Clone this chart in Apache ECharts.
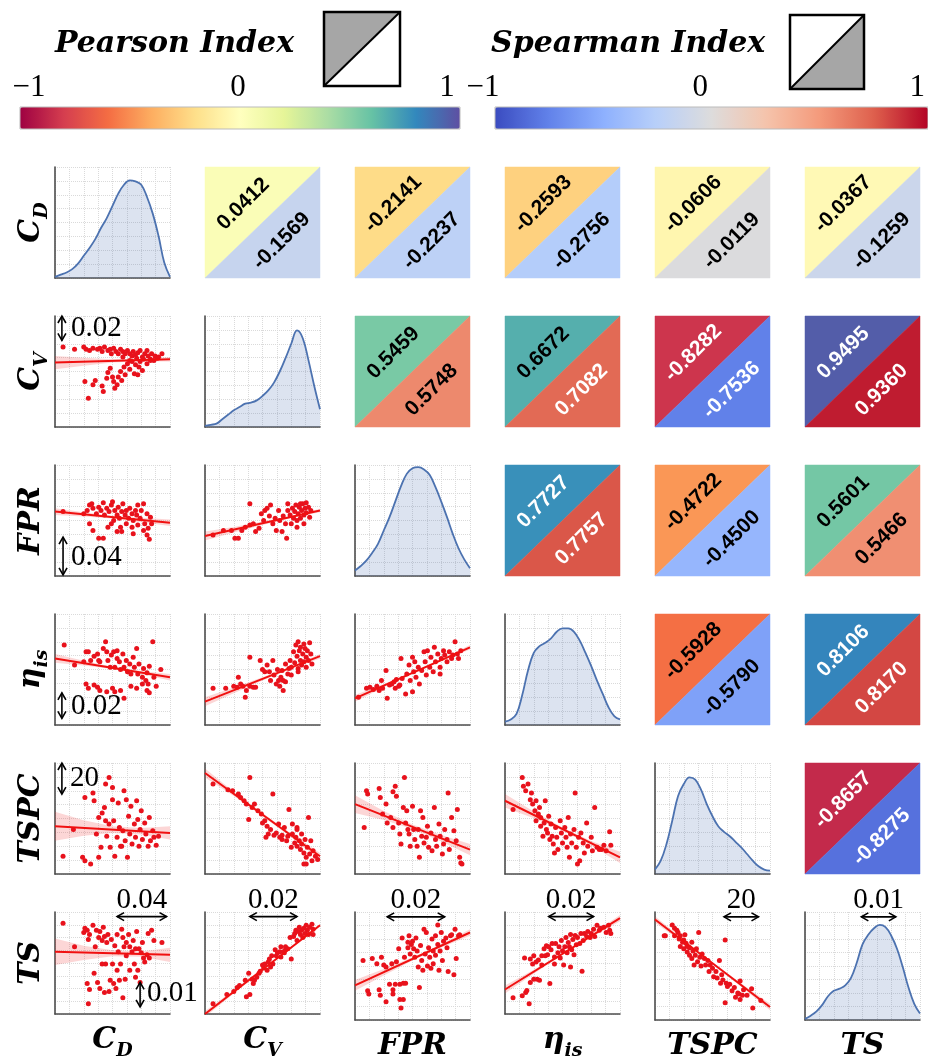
<!DOCTYPE html>
<html><head><meta charset="utf-8">
<script src="https://cdn.jsdelivr.net/npm/echarts@6/dist/echarts.min.js"></script>
<style>html,body{margin:0;padding:0;background:#fff}#c{width:928px;height:1062px}</style>
</head><body><div id="c"></div><script>
// ---------------- DATA ----------------
var VARS = [{m:'C',s:'D'},{m:'C',s:'V'},{m:'FPR'},{m:'η',s:'is'},{m:'TSPC'},{m:'TS'}];
// upper-triangle pairs, row-major (CD-CV, CD-FPR, ... TSPC-TS)
var PEARSON  = [0.0412,-0.2141,-0.2593,-0.0606,-0.0367, 0.5459,0.6672,-0.8282,0.9495, 0.7727,-0.4722,0.5601, -0.5928,0.8106, -0.8657];
var SPEARMAN = [-0.1569,-0.2237,-0.2756,-0.0119,-0.1259, 0.5748,0.7082,-0.7536,0.9360, 0.7757,-0.4500,0.5466, -0.5790,0.8170, -0.8275];
var CB_TICKS = [-1, 0, 1];

// KDE curves on the diagonal (x positions, normalized density)
var KDE_X    = [0,5,10,15,20,25,30,35,40,45,50,55,60,65,70,75,80,85,90,95,100];
var KDE_CD   = [1,3,5,8,13,20,27,35,45,54,65,76,84,88,87,84,73,58,38,14,1];
var KDE_CV   = [1,2,3,7,11,15,18,21,22,24,28,33,40,50,62,75,87,80,60,37,16];
var KDE_FPR  = [5,9,14,21,29,41,53,67,81,92,97,98,96,91,80,67,53,38,25,15,7];
var KDE_ETA  = [3,5,10,27,49,65,71,74,78,84,87,87,84,76,65,53,40,28,16,8,5];
var KDE_TSPC = [4,12,27,48,70,81,87,85,76,63,52,43,38,34,29,24,18,12,7,4,3];
var KDE_TS   = [1,4,8,14,22,27,29,32,39,53,70,79,85,88,86,78,66,49,30,15,6];

// scatter points (normalized 0-100 within each panel): rowVar_colVar
var CV_CD = [[7,72],[17,70],[25,72],[27,70],[30,69],[33,71],[37,70],[39,71],[41,68],[43,72],[46,69],[48,70],[49,66],[51,71],[53,68],[55,66],[57,70],[59,68],[61,66],[63,69],[65,66],[67,64],[68,68],[70,65],[72,67],[74,69],[76,63],[78,66],[80,69],[81,64],[83,61],[84,66],[87,64],[90,63],[93,66],[59,63],[71,62],[65,60],[26,41],[29,26],[33,38],[35,42],[41,37],[42,32],[45,44],[46,49],[48,53],[50,45],[51,41],[52,35],[54,38],[55,45],[57,50],[58,42],[60,54],[61,47],[63,57],[65,52],[67,59],[69,48],[70,56],[72,47],[73,54],[74,59],[76,51],[77,61],[80,57],[83,60],[86,60],[89,62]];
var FPR_CD = [[7,58],[25,56],[28,59],[30,64],[32,65],[33,61],[36,56],[38,62],[40,59],[42,66],[43,55],[45,61],[47,58],[49,64],[50,67],[52,59],[54,55],[55,62],[56,52],[58,58],[59,65],[61,55],[62,59],[64,52],[65,61],[67,56],[68,50],[70,59],[71,55],[72,64],[74,52],[75,59],[77,65],[78,47],[80,56],[81,43],[83,53],[30,47],[33,41],[38,34],[42,34],[46,44],[49,47],[54,40],[58,40],[62,47],[67,44],[72,46],[77,41],[80,37],[82,33],[84,47],[57,44],[51,50],[68,38]];
var FPR_CV = [[7,37],[16,41],[23,41],[26,34],[29,34],[32,41],[35,44],[39,65],[39,46],[42,47],[44,40],[47,43],[49,56],[51,50],[52,59],[54,61],[56,54],[57,64],[59,47],[61,52],[62,41],[64,59],[65,50],[67,40],[68,54],[70,47],[71,34],[72,59],[72,65],[74,55],[75,47],[76,61],[77,52],[78,58],[79,64],[80,44],[81,56],[82,62],[83,52],[84,59],[85,65],[86,55],[87,61],[88,57],[90,62],[91,53],[92,59],[80,50],[86,47],[83,65],[88,66]];
var ETA_CD = [[8,72],[17,54],[25,57],[27,66],[29,66],[31,58],[34,62],[37,64],[38,58],[39,57],[42,69],[44,75],[45,66],[46,58],[48,52],[49,63],[51,66],[52,52],[54,60],[54,67],[56,57],[57,50],[59,64],[60,52],[62,58],[63,48],[65,55],[66,46],[68,61],[69,52],[71,69],[72,46],[73,55],[76,43],[77,51],[79,40],[80,47],[81,37],[82,53],[85,75],[86,43],[88,35],[92,50],[27,37],[29,33],[34,36],[37,34],[39,31],[45,30],[50,33],[52,30],[57,31],[60,24],[66,35],[71,33],[76,37],[80,31],[82,29]];
var ETA_CV = [[7,33],[18,33],[25,35],[28,34],[29,43],[31,37],[33,35],[35,25],[36,31],[39,61],[39,35],[42,34],[44,34],[48,58],[50,50],[52,48],[54,54],[56,48],[57,40],[59,58],[60,45],[62,37],[63,50],[64,40],[65,35],[66,43],[67,49],[68,31],[70,39],[70,55],[72,46],[73,51],[74,58],[75,52],[77,66],[78,56],[79,72],[80,62],[81,51],[81,75],[82,67],[83,58],[83,70],[84,54],[85,64],[86,73],[86,57],[87,69],[88,61],[88,52],[89,67],[90,58],[91,74],[92,64],[93,55],[81,48],[75,45],[68,40]];
var ETA_FPR = [[3,25],[10,33],[13,34],[16,32],[19,35],[21,31],[23,40],[24,33],[27,49],[28,24],[30,36],[32,37],[35,33],[36,41],[38,35],[40,60],[41,42],[44,28],[45,46],[47,54],[48,40],[50,61],[51,48],[52,57],[53,43],[55,52],[56,37],[58,49],[60,66],[61,57],[62,45],[63,67],[65,52],[66,61],[68,48],[69,70],[70,57],[72,64],[74,52],[75,60],[77,67],[78,63],[80,57],[82,66],[84,60],[85,63],[87,75],[89,64],[90,60],[92,67],[39,36],[34,39],[50,30],[74,46]];
var TSPC_CD = [[7,16],[26,69],[47,87],[26,12],[24,15],[31,9],[33,73],[34,66],[36,36],[38,15],[40,24],[41,55],[43,60],[44,81],[45,34],[47,45],[48,24],[50,78],[51,48],[52,16],[54,33],[55,64],[56,42],[57,25],[59,39],[60,75],[61,30],[63,15],[64,52],[65,36],[66,61],[67,27],[69,45],[70,33],[71,66],[72,49],[73,25],[74,40],[75,57],[76,31],[78,46],[79,36],[81,25],[82,51],[83,30],[85,39],[86,33],[88,26],[90,34],[38,51],[44,48],[50,67],[58,25],[62,67],[16,40]];
var TSPC_CV = [[7,81],[20,76],[24,75],[29,72],[31,69],[34,66],[36,63],[39,87],[38,49],[41,60],[43,63],[46,57],[49,54],[50,46],[52,48],[54,43],[55,36],[57,40],[59,72],[60,35],[62,37],[64,45],[65,33],[67,35],[69,42],[71,30],[72,34],[73,58],[75,24],[76,45],[76,36],[78,28],[79,33],[80,25],[80,40],[82,30],[83,22],[84,36],[84,27],[86,19],[87,31],[88,15],[89,24],[90,51],[91,18],[92,30],[93,12],[94,21],[96,16],[98,13],[86,9],[88,9],[80,42],[67,31],[53,33]];
var TSPC_FPR = [[8,42],[10,75],[11,72],[21,77],[22,69],[24,54],[27,63],[28,46],[31,51],[33,74],[35,79],[36,70],[38,46],[39,36],[40,27],[42,60],[43,87],[44,46],[46,40],[47,36],[48,25],[50,61],[51,40],[52,31],[54,25],[55,40],[56,15],[58,34],[59,51],[60,28],[62,33],[63,43],[64,24],[66,37],[67,21],[69,60],[70,31],[71,25],[73,45],[74,34],[76,18],[77,27],[78,40],[80,31],[81,73],[82,22],[84,51],[86,39],[88,30],[89,58],[91,15],[92,10],[93,9],[45,57],[57,57],[33,42]];
var TSPC_ETA = [[7,58],[15,87],[16,79],[18,75],[20,81],[22,67],[23,73],[24,63],[26,57],[27,66],[27,48],[29,54],[30,60],[31,43],[31,51],[33,34],[34,46],[36,40],[37,37],[38,52],[39,31],[40,45],[41,34],[42,27],[44,42],[45,33],[46,22],[48,48],[49,37],[50,28],[52,42],[53,33],[54,24],[55,51],[56,15],[57,36],[58,28],[60,40],[61,73],[62,24],[64,33],[65,12],[66,37],[68,28],[69,19],[71,46],[72,25],[75,33],[76,21],[78,60],[80,24],[82,22],[84,22],[86,26],[88,21],[91,38],[92,26],[63,9],[35,66],[43,19]];
var TS_CD = [[7,89],[17,66],[25,80],[26,84],[28,82],[29,73],[30,78],[33,87],[34,40],[35,66],[36,82],[37,31],[38,75],[39,25],[39,81],[41,72],[42,85],[43,21],[43,76],[44,49],[45,70],[46,78],[47,22],[48,33],[49,73],[50,49],[51,30],[52,67],[53,25],[54,43],[54,78],[55,61],[56,33],[57,49],[58,83],[59,75],[59,16],[60,66],[61,34],[62,70],[62,57],[64,78],[65,43],[65,66],[67,61],[68,72],[69,49],[70,36],[70,64],[71,81],[72,43],[73,64],[74,31],[75,60],[76,70],[77,55],[78,51],[80,58],[81,79],[82,55],[84,82],[86,72],[93,70],[28,30],[30,24],[29,10],[41,49]];
var TS_CV = [[7,10],[19,19],[25,22],[28,26],[30,28],[35,33],[36,17],[38,40],[39,19],[41,34],[43,33],[45,36],[47,40],[50,48],[51,45],[52,49],[54,43],[55,51],[57,46],[58,57],[59,49],[61,63],[62,57],[63,60],[65,61],[66,56],[68,61],[69,60],[70,66],[70,63],[72,64],[74,75],[75,54],[77,76],[78,79],[79,82],[80,72],[81,81],[82,85],[83,78],[84,82],[85,75],[86,84],[87,79],[88,87],[89,82],[90,78],[91,85],[93,88],[94,83],[94,78],[66,66],[56,54],[48,42],[42,30]];
var TS_FPR = [[7,55],[11,27],[12,24],[15,57],[19,52],[21,28],[22,23],[23,58],[25,51],[27,49],[27,17],[30,33],[32,52],[33,28],[33,24],[35,33],[36,54],[38,66],[39,33],[39,19],[40,11],[41,76],[42,19],[42,34],[43,58],[44,34],[46,72],[46,67],[47,78],[48,61],[49,70],[50,73],[51,66],[52,58],[53,76],[54,64],[55,49],[56,30],[57,69],[58,55],[59,46],[60,84],[61,61],[62,81],[63,50],[64,67],[65,58],[66,48],[67,75],[68,64],[68,52],[70,78],[70,60],[72,88],[72,70],[73,46],[74,64],[75,81],[76,55],[77,73],[79,76],[80,67],[81,45],[83,78],[84,79],[86,42],[87,84],[88,57],[90,78],[91,79]];
var TS_ETA = [[7,16],[15,18],[17,55],[18,21],[19,23],[21,10],[22,54],[22,31],[24,49],[25,34],[25,57],[27,51],[28,34],[29,53],[30,33],[32,57],[32,48],[34,64],[35,57],[36,67],[37,58],[38,66],[39,30],[40,63],[41,69],[43,56],[43,49],[44,69],[46,60],[47,66],[48,55],[49,72],[50,62],[51,48],[52,66],[53,75],[54,60],[55,70],[56,66],[57,78],[58,63],[59,73],[60,58],[61,77],[62,68],[63,75],[65,69],[66,79],[67,42],[68,72],[69,79],[71,76],[72,81],[74,75],[75,79],[77,83],[78,76],[80,87],[82,82],[83,84],[86,85],[88,80],[90,87],[91,82],[92,79],[57,46]];
var TS_TSPC = [[8,78],[9,78],[15,88],[17,85],[17,78],[19,83],[20,81],[21,75],[22,68],[22,78],[24,72],[25,74],[25,66],[26,79],[27,71],[28,63],[28,68],[30,60],[30,67],[32,72],[32,57],[33,64],[34,51],[35,60],[36,66],[37,54],[38,81],[39,58],[40,50],[41,61],[43,57],[44,51],[46,55],[47,45],[48,51],[50,48],[51,40],[53,45],[54,39],[56,55],[57,34],[58,42],[59,37],[61,16],[61,74],[62,34],[63,31],[65,33],[67,27],[69,30],[70,21],[72,25],[73,24],[74,19],[76,23],[77,28],[80,23],[84,29],[85,11],[92,18],[74,36]];

// regression lines [[x,y],[x,y]] and confidence bands [x, lower, upper]
var LINE_CV_CD = [[0,58],[100,61]];     var BAND_CV_CD = [[0,52,64],[25,55.2,62.3],[50,58,61],[75,59.2,61.2],[100,59,63]];
var LINE_FPR_CD = [[0,58],[100,48]];    var BAND_FPR_CD = [[0,55,61],[25,53.5,57.5],[50,51.8,54.2],[75,48.5,52.5],[100,45,51]];
var LINE_FPR_CV = [[0,36],[100,59]];    var BAND_FPR_CV = [[0,32,40],[25,39.2,44.2],[50,46,49],[75,52.2,54.2],[100,57.5,60.5]];
var LINE_ETA_CD = [[0,60],[100,43]];    var BAND_ETA_CD = [[0,56,64],[25,53.7,57.8],[50,50.5,52.5],[75,45.7,48.7],[100,40,46]];
var LINE_ETA_CV = [[0,21],[100,62]];    var BAND_ETA_CV = [[0,17,25],[25,28.7,33.7],[50,40,43],[75,50.7,52.7],[100,60,64]];
var LINE_ETA_FPR = [[0,24],[100,70]];   var BAND_ETA_FPR = [[0,21,27],[25,34,37],[50,46,48],[75,57.5,59.5],[100,68,72]];
var LINE_TSPC_CD = [[0,43],[100,37]];   var BAND_TSPC_CD = [[0,30,56],[25,34.5,48.5],[50,37,43],[75,35.5,41.5],[100,31,43]];
var LINE_TSPC_CV = [[0,91],[100,16]];   var BAND_TSPC_CV = [[0,87,95],[25,70.2,74.2],[50,52,55],[75,33.2,36.2],[100,13,19]];
var LINE_TSPC_FPR = [[0,63],[100,22]];  var BAND_TSPC_FPR = [[0,55,71],[25,48.7,56.7],[50,40.5,44.5],[75,29.2,35.2],[100,17,27]];
var LINE_TSPC_ETA = [[0,66],[100,15]];  var BAND_TSPC_ETA = [[0,60,72],[25,50.2,56.2],[50,39,42],[75,25.7,29.7],[100,10,20]];
var LINE_TS_CD = [[0,61],[100,58]];     var BAND_TS_CD = [[0,48,74],[25,53,67],[50,56.5,62.5],[75,56.2,61.2],[100,51,65]];
var LINE_TS_CV = [[0,0],[100,87]];      var BAND_TS_CV = [[0,-3,3],[25,20.2,23.2],[50,42.5,44.5],[75,64.2,66.2],[100,85.5,88.5]];
var LINE_TS_FPR = [[0,32],[100,81]];    var BAND_TS_FPR = [[0,27,37],[25,41.2,47.2],[50,55,58],[75,67.2,70.2],[100,78,84]];
var LINE_TS_ETA = [[0,24],[100,94]];    var BAND_TS_ETA = [[0,20,28],[25,39.5,43.5],[50,58,60],[75,75,78],[100,91,97]];
var LINE_TS_TSPC = [[0,93],[100,12]];   var BAND_TS_TSPC = [[0,90,96],[25,71.2,74.2],[50,51.5,53.5],[75,30.7,33.7],[100,9,15]];

// scale-bar annotations (panel data units)
var SCALE_BARS = [
 {r:1,c:0,seg:[6,100,6,78],text:'0.02',at:[14,89],align:'left'},
 {r:2,c:0,seg:[7,35,7,1],text:'0.04',at:[14,17],align:'left'},
 {r:3,c:0,seg:[6,29,6,6],text:'0.02',at:[14,17],align:'left'},
 {r:4,c:0,seg:[6,100,6,72],text:'20',at:[13,86],align:'left'},
 {r:5,c:0,seg:[74,31,74,7],text:'0.01',at:[80,20],align:'left'},
 {r:5,c:0,seg:[54,95.5,97,95.5],text:'0.04',at:[75.5,111],align:'center'},
 {r:5,c:1,seg:[39,95.5,80,95.5],text:'0.02',at:[59.5,111],align:'center'},
 {r:5,c:2,seg:[28,95.5,78,95.5],text:'0.02',at:[53,111],align:'center'},
 {r:5,c:3,seg:[38,95.5,77,95.5],text:'0.02',at:[57.5,111],align:'center'},
 {r:5,c:4,seg:[60,95.5,90,95.5],text:'20',at:[75,111],align:'center'},
 {r:5,c:5,seg:[49,95.5,79,95.5],text:'0.01',at:[64,111],align:'center'}
];

var SPECTRAL = ['#9e0142','#d53e4f','#f46d43','#fdae61','#fee08b','#ffffbf','#e6f598','#abdda4','#66c2a5','#3288bd','#5e4fa2'];
var COOLWARM = ['#3b4cc0','#6282ea','#8db0fe','#b9d0f9','#dddcdc','#f5c4ac','#f49a7b','#de604d','#b40426'];

// ---------------- BUILD ----------------
var KDES = [KDE_CD, KDE_CV, KDE_FPR, KDE_ETA, KDE_TSPC, KDE_TS];
var LOWER = [
 {r:1,c:0,pts:CV_CD,line:LINE_CV_CD,band:BAND_CV_CD},
 {r:2,c:0,pts:FPR_CD,line:LINE_FPR_CD,band:BAND_FPR_CD},
 {r:2,c:1,pts:FPR_CV,line:LINE_FPR_CV,band:BAND_FPR_CV},
 {r:3,c:0,pts:ETA_CD,line:LINE_ETA_CD,band:BAND_ETA_CD},
 {r:3,c:1,pts:ETA_CV,line:LINE_ETA_CV,band:BAND_ETA_CV},
 {r:3,c:2,pts:ETA_FPR,line:LINE_ETA_FPR,band:BAND_ETA_FPR},
 {r:4,c:0,pts:TSPC_CD,line:LINE_TSPC_CD,band:BAND_TSPC_CD},
 {r:4,c:1,pts:TSPC_CV,line:LINE_TSPC_CV,band:BAND_TSPC_CV},
 {r:4,c:2,pts:TSPC_FPR,line:LINE_TSPC_FPR,band:BAND_TSPC_FPR},
 {r:4,c:3,pts:TSPC_ETA,line:LINE_TSPC_ETA,band:BAND_TSPC_ETA},
 {r:5,c:0,pts:TS_CD,line:LINE_TS_CD,band:BAND_TS_CD},
 {r:5,c:1,pts:TS_CV,line:LINE_TS_CV,band:BAND_TS_CV},
 {r:5,c:2,pts:TS_FPR,line:LINE_TS_FPR,band:BAND_TS_FPR},
 {r:5,c:3,pts:TS_ETA,line:LINE_TS_ETA,band:BAND_TS_ETA},
 {r:5,c:4,pts:TS_TSPC,line:LINE_TS_TSPC,band:BAND_TS_TSPC}
];

var L0 = 55, DX = 150, T0 = 167, DY = 149, W = 115, H = 111;
var FONT_LBL = 'DejaVu Serif';
var LBL_RICH = {
  m: {fontFamily: FONT_LBL, fontWeight: 'bold', fontStyle: 'italic', fontSize: 30, color: '#000', verticalAlign: 'bottom', padding: [0,0,6,0]},
  s: {fontFamily: FONT_LBL, fontWeight: 'bold', fontStyle: 'italic', fontSize: 19, color: '#000', verticalAlign: 'bottom'}
};
function labelOf(i){ var v = VARS[i]; return '{m|' + v.m + '}' + (v.s ? '{s|' + v.s + '}' : ''); }

var grids = [], xAxes = [], yAxes = [], series = [], pIdx = [], sIdx = [];
function gi(r, c){ return r * 6 + c; }

function visAxis(k, name, isY){
  var a = {
    gridIndex: k, type: 'value', min: 0, max: 100, interval: 12.5,
    axisLine: {show: true, onZero: false, lineStyle: {color: '#4d4d4d', width: 1.6}},
    axisTick: {show: false}, axisLabel: {show: false},
    splitLine: {show: true, lineStyle: {color: '#dadada', type: 'dotted', width: 1}}
  };
  if (name) {
    a.name = name; a.nameLocation = 'middle';
    a.nameTextStyle = {rich: LBL_RICH};
    if (isY) { a.nameRotate = 90; a.nameGap = 3; } else { a.nameGap = 11; }
  }
  return a;
}
function hidAxis(k){ return {gridIndex: k, type: 'value', min: 0, max: 1, show: false}; }

for (var r = 0; r < 6; r++) {
  for (var c = 0; c < 6; c++) {
    var k = gi(r, c);
    grids.push({left: L0 + c * DX, top: T0 + r * DY, width: W, height: H});
    if (r < c) { xAxes.push(hidAxis(k)); yAxes.push(hidAxis(k)); }
    else {
      xAxes.push(visAxis(k, r === 5 ? labelOf(c) : null, false));
      yAxes.push(visAxis(k, c === 0 ? labelOf(r) : null, true));
    }
  }
}

// diagonal KDEs
KDES.forEach(function(kde, i){
  var k = gi(i, i);
  series.push({type: 'line', xAxisIndex: k, yAxisIndex: k, silent: true, symbol: 'none', smooth: 0.4,
    data: KDE_X.map(function(x, j){ return [x, kde[j]]; }),
    lineStyle: {color: '#4c72b0', width: 1.8}, areaStyle: {color: 'rgba(76,114,176,0.28)'}, z: 3});
});

// lower scatters
function bandRender(band){
  return function(params, api){
    if (params.dataIndex !== 0) return null;
    var up = [], lo = [];
    for (var i = 0; i < band.length; i++) {
      up.push(api.coord([band[i][0], band[i][2]]));
      lo.unshift(api.coord([band[i][0], band[i][1]]));
    }
    return {type: 'polygon', shape: {points: up.concat(lo)}, style: {fill: 'rgba(240,50,50,0.2)'}};
  };
}
LOWER.forEach(function(p){
  var k = gi(p.r, p.c);
  series.push({type: 'custom', xAxisIndex: k, yAxisIndex: k, silent: true, clip: true, z: 2,
    data: p.band, renderItem: bandRender(p.band)});
  series.push({type: 'scatter', xAxisIndex: k, yAxisIndex: k, silent: true, z: 3,
    data: p.pts, symbolSize: 5, itemStyle: {color: '#e8121c', opacity: 1}});
  series.push({type: 'line', xAxisIndex: k, yAxisIndex: k, silent: true, z: 4, clip: true,
    data: p.line, symbol: 'none', lineStyle: {color: '#f01010', width: 2}});
});

// upper triangles
function triRender(kind){
  return function(params, api){
    var tl = api.coord([0, 1]), tr = api.coord([1, 1]), bl = api.coord([0, 0]), br = api.coord([1, 0]);
    var pts = kind === 'p' ? [tl, tr, bl] : [tr, br, bl];
    var v = api.value(2);
    var cx = (pts[0][0] + pts[1][0] + pts[2][0]) / 3, cy = (pts[0][1] + pts[1][1] + pts[2][1]) / 3;
    return {type: 'group', children: [
      {type: 'polygon', shape: {points: pts}, style: {fill: api.visual('color'), stroke: api.visual('color'), lineWidth: 0.5}},
      {type: 'text', x: cx, y: cy, rotation: Math.PI / 4,
        style: {text: v.toFixed(4), fill: Math.abs(v) > 0.7 ? '#ffffff' : '#000000',
          fontSize: 21, fontWeight: 'bold', fontFamily: 'Liberation Sans', align: 'center', verticalAlign: 'middle'}}
    ]};
  };
}
var u = 0;
for (var r2 = 0; r2 < 6; r2++) {
  for (var c2 = r2 + 1; c2 < 6; c2++) {
    var k2 = gi(r2, c2);
    pIdx.push(series.length);
    series.push({type: 'custom', xAxisIndex: k2, yAxisIndex: k2, silent: true, z: 2,
      data: [[0, 0, PEARSON[u]]], encode: {x: 0, y: 1}, renderItem: triRender('p')});
    sIdx.push(series.length);
    series.push({type: 'custom', xAxisIndex: k2, yAxisIndex: k2, silent: true, z: 2,
      data: [[0, 0, SPEARMAN[u]]], encode: {x: 0, y: 1}, renderItem: triRender('s')});
    u++;
  }
}

// scale bars
function head(tip, from){
  var dx = tip[0] - from[0], dy = tip[1] - from[1], len = Math.sqrt(dx * dx + dy * dy);
  var ux = dx / len, uy = dy / len, a = 7, s = 4;
  return [[tip[0] - ux * a - uy * s, tip[1] - uy * a + ux * s], tip, [tip[0] - ux * a + uy * s, tip[1] - uy * a - ux * s]];
}
function barRender(b){
  return function(params, api){
    var p1 = api.coord([b.seg[0], b.seg[1]]), p2 = api.coord([b.seg[2], b.seg[3]]);
    var t = api.coord(b.at);
    var ls = {stroke: '#000', lineWidth: 1.6, fill: null};
    return {type: 'group', children: [
      {type: 'line', shape: {x1: p1[0], y1: p1[1], x2: p2[0], y2: p2[1]}, style: ls},
      {type: 'polyline', shape: {points: head(p1, p2)}, style: ls},
      {type: 'polyline', shape: {points: head(p2, p1)}, style: ls},
      {type: 'text', x: t[0], y: t[1], style: {text: b.text, fill: '#000', fontSize: 29, fontFamily: 'Liberation Serif',
        align: b.align, verticalAlign: 'middle'}}
    ]};
  };
}
SCALE_BARS.forEach(function(b){
  var k = gi(b.r, b.c);
  series.push({type: 'custom', xAxisIndex: k, yAxisIndex: k, silent: true, clip: false, z: 10,
    data: [[b.seg[0], b.seg[1]]], renderItem: barRender(b)});
});

// colorbar tick axes
var cbGrids = [{left: 29, top: 104, width: 418, height: 1}, {left: 483, top: 104, width: 439, height: 1}];
cbGrids.forEach(function(g){
  var k = grids.length;
  grids.push(g);
  xAxes.push({gridIndex: k, type: 'value', position: 'top', min: CB_TICKS[0], max: CB_TICKS[CB_TICKS.length - 1], interval: 1,
    axisLine: {show: false}, axisTick: {show: false}, splitLine: {show: false},
    axisLabel: {show: true, margin: 1, fontSize: 31, fontFamily: 'Liberation Serif', color: '#000',
      formatter: function(v){ return v < 0 ? '\u2212' + Math.abs(v) : String(v); }}});
  yAxes.push({gridIndex: k, type: 'value', show: false});
});

var titleStyle = {fontFamily: FONT_LBL, fontWeight: 'bold', fontStyle: 'italic', fontSize: 30, color: '#000'};

var option = {
  animation: false,
  backgroundColor: '#ffffff',
  title: [
    {text: 'Pearson Index', left: 55, top: 29, padding: 0, textStyle: titleStyle},
    {text: 'Spearman Index', left: 491, top: 29, padding: 0, textStyle: titleStyle}
  ],
  grid: grids, xAxis: xAxes, yAxis: yAxes, series: series,
  visualMap: [
    {type: 'continuous', min: -1, max: 1, seriesIndex: pIdx, dimension: 2, orient: 'horizontal',
      left: 20, top: 107, itemWidth: 22, itemHeight: 440, padding: 0, calculable: false, hoverLink: false,
      inRange: {color: SPECTRAL}, textStyle: {color: 'rgba(0,0,0,0)'}},
    {type: 'continuous', min: -1, max: 1, seriesIndex: sIdx, dimension: 2, orient: 'horizontal',
      left: 495, top: 107, itemWidth: 22, itemHeight: 433, padding: 0, calculable: false, hoverLink: false,
      inRange: {color: COOLWARM}, textStyle: {color: 'rgba(0,0,0,0)'}}
  ],
  graphic: [
    {type: 'rect', shape: {x: 20, y: 107, width: 440, height: 22}, style: {fill: null, stroke: '#bbbbbb', lineWidth: 1}, z: 100},
    {type: 'rect', shape: {x: 495, y: 107, width: 433, height: 22}, style: {fill: null, stroke: '#bbbbbb', lineWidth: 1}, z: 100},
    {type: 'polygon', shape: {points: [[324,12],[400,12],[324,86]]}, style: {fill: '#a6a6a6'}},
    {type: 'rect', shape: {x: 324, y: 12, width: 76, height: 74}, style: {fill: null, stroke: '#000', lineWidth: 2.5}},
    {type: 'line', shape: {x1: 324, y1: 86, x2: 400, y2: 12}, style: {stroke: '#000', lineWidth: 2}},
    {type: 'polygon', shape: {points: [[864,15],[864,89],[790,89]]}, style: {fill: '#a6a6a6'}},
    {type: 'rect', shape: {x: 790, y: 15, width: 74, height: 74}, style: {fill: null, stroke: '#000', lineWidth: 2.5}},
    {type: 'line', shape: {x1: 790, y1: 89, x2: 864, y2: 15}, style: {stroke: '#000', lineWidth: 2}}
  ]
};

var chart = echarts.init(document.getElementById('c'), null, {renderer: 'canvas'});
chart.setOption(option);
</script></body></html>
